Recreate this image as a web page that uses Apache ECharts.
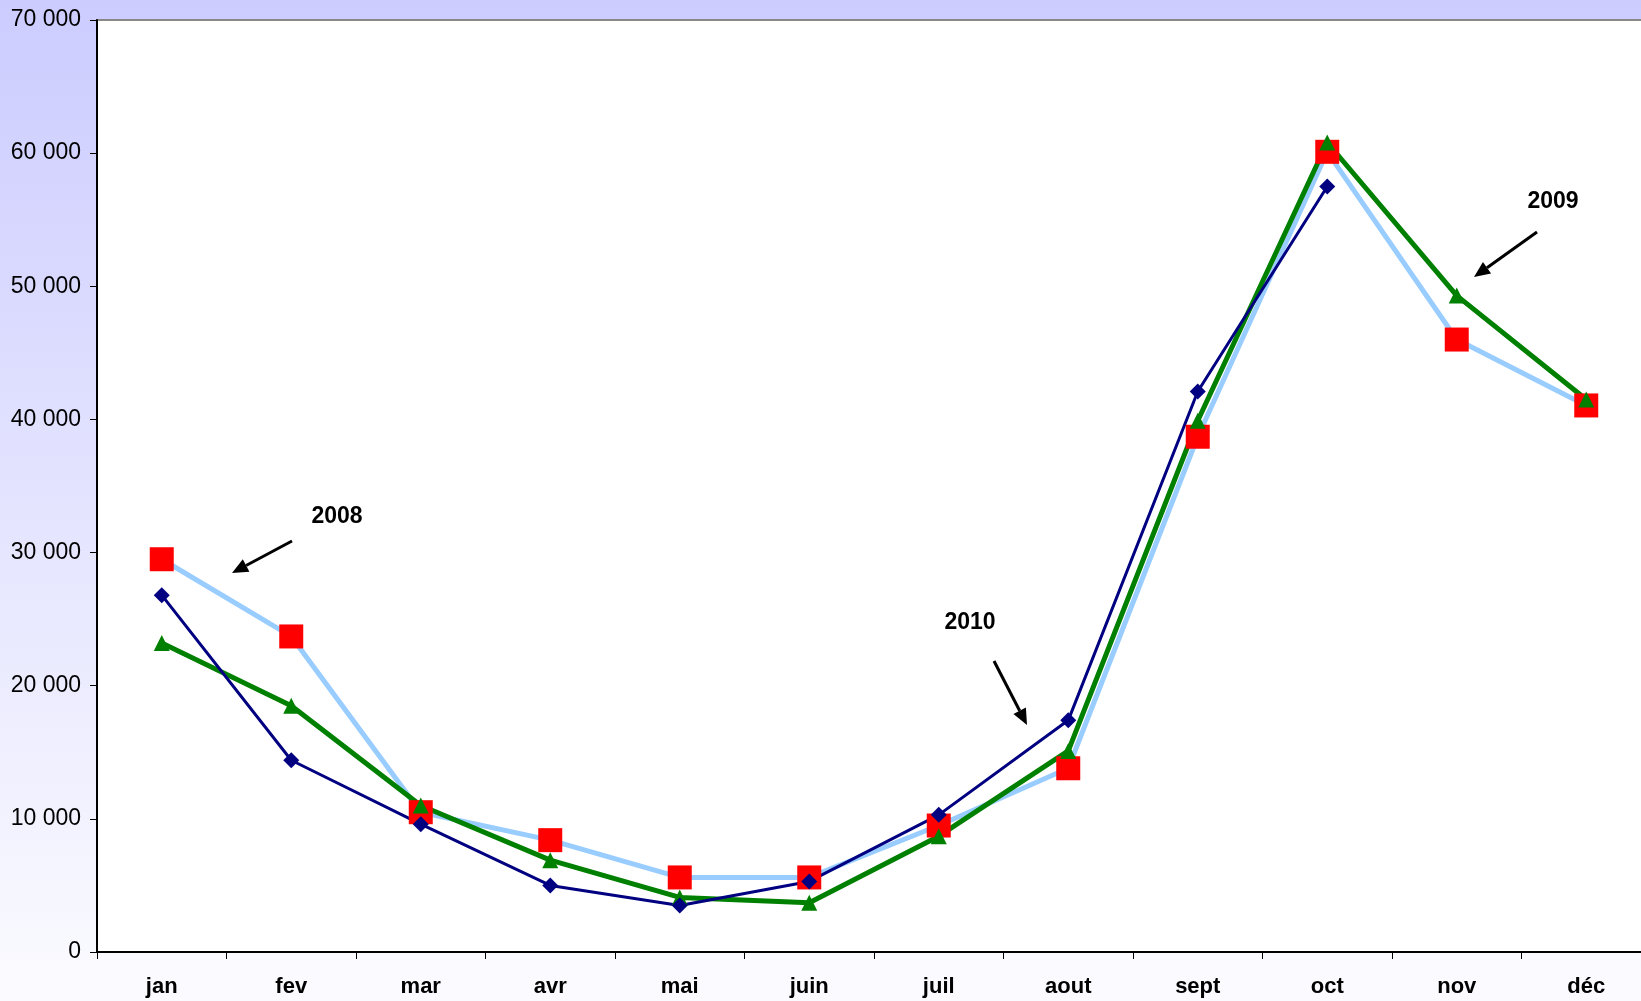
<!DOCTYPE html>
<html style="height: 100%">
<head>
    <meta charset="utf-8">
</head>
<body style="height: 100%; margin: 0">
<div id="container" style="height: 100%"></div>
<script src="https://cdn.jsdelivr.net/npm/echarts@6/dist/echarts.min.js"></script>
<script type="text/javascript">
    // mois
    var months = ['jan', 'fev', 'mar', 'avr', 'mai', 'juin', 'juil', 'aout', 'sept', 'oct', 'nov', 'déc'];
    // valeurs
    var v2008 = [29500, 23700, 10500, 8400, 5600, 5600, 9500, 13800, 38700, 60100, 46000, 41050];
    var v2009 = [23200, 18500, 11000, 6900, 4100, 3700, 8700, 15100, 39900, 60800, 49300, 41500];
    var v2010 = [26800, 14400, 9600, 5000, 3500, 5300, 10300, 17400, 42100, 57500, null, null];

    var dom = document.getElementById("container");
    var myChart = echarts.init(dom);

    function fmt(v) {
        return String(v).replace(/\B(?=(\d{3})+(?!\d))/g, ' ');
    }

    // fleches + etiquettes
    function arrow(x1, y1, x2, y2) {
        var a = Math.atan2(y2 - y1, x2 - x1);
        var L = 16, W = 7;
        var bx = x2 - L * Math.cos(a), by = y2 - L * Math.sin(a);
        return [
            {
                type: 'line',
                shape: {x1: x1, y1: y1, x2: bx, y2: by},
                style: {stroke: '#000', lineWidth: 3}
            },
            {
                type: 'polygon',
                shape: {points: [[x2, y2],
                    [bx + W * Math.sin(a), by - W * Math.cos(a)],
                    [bx - W * Math.sin(a), by + W * Math.cos(a)]]},
                style: {fill: '#000'}
            }
        ];
    }
    function label(x, y, t) {
        return {
            type: 'text', x: x, y: y,
            style: {text: t, font: 'bold 23px "Liberation Sans", Arial', fill: '#000',
                align: 'center', verticalAlign: 'middle'}
        };
    }

    var graphics = [].concat(
        [label(337, 517, '2008')], arrow(292, 541, 232, 573),
        [label(1553, 202, '2009')], arrow(1537, 232, 1474, 277),
        [label(970, 623, '2010')], arrow(994, 661, 1027, 725)
    );

    var option = {
        animation: false,
        backgroundColor: {
            type: 'linear', x: 0, y: 0, x2: 0, y2: 1,
            colorStops: [{offset: 0, color: '#ccccff'}, {offset: 1, color: '#fbfbff'}]
        },
        textStyle: {fontFamily: '"Liberation Sans", Arial, sans-serif'},
        grid: {
            left: 97, top: 20, width: 1554, bottom: 49,
            outerBoundsMode: 'none',
            show: true, backgroundColor: '#ffffff', borderColor: '#888888', borderWidth: 2
        },
        xAxis: {
            type: 'category',
            data: months,
            boundaryGap: true,
            axisLine: {lineStyle: {color: '#000', width: 2}},
            axisTick: {show: true, length: 7, lineStyle: {color: '#000'}},
            axisLabel: {color: '#000', fontSize: 22, fontWeight: 'bold', margin: 24}
        },
        yAxis: {
            type: 'value',
            min: 0, max: 70000, interval: 10000,
            splitLine: {show: false},
            axisLine: {show: true, lineStyle: {color: '#000', width: 2}},
            axisTick: {show: true, length: 7, lineStyle: {color: '#000'}},
            axisLabel: {color: '#000', fontSize: 23, margin: 16, formatter: fmt}
        },
        series: [
            {
                name: '2008', type: 'line', data: v2008,
                lineStyle: {color: '#99ccff', width: 5},
                itemStyle: {color: '#ff0000'},
                symbol: 'rect', symbolSize: 24
            },
            {
                name: '2009', type: 'line', data: v2009,
                lineStyle: {color: '#008000', width: 5},
                itemStyle: {color: '#008000'},
                symbol: 'triangle', symbolSize: 16
            },
            {
                name: '2010', type: 'line', data: v2010,
                lineStyle: {color: '#000080', width: 3},
                itemStyle: {color: '#000080'},
                symbol: 'diamond', symbolSize: 16
            }
        ],
        graphic: graphics
    };

    myChart.setOption(option, true);
</script>
</body>
</html>
